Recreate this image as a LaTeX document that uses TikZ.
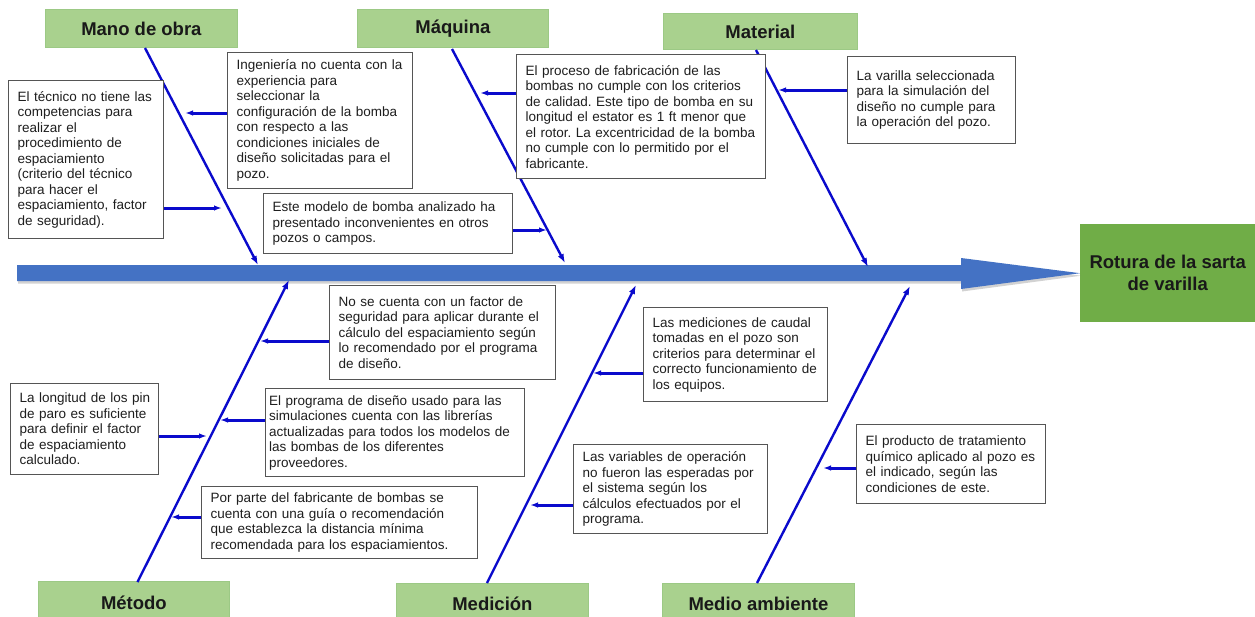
\documentclass[tikz,border=0pt]{standalone}
\usepackage{fontspec}
\setmainfont{Liberation Sans}
\usetikzlibrary{arrows.meta,shadows}
\definecolor{bone}{HTML}{0A0ACC}
\definecolor{boxline}{HTML}{555555}
\definecolor{txt}{HTML}{1E1E1E}
\definecolor{catfill}{HTML}{A9D18E}
\definecolor{catline}{HTML}{9CC985}
\definecolor{effill}{HTML}{70AD47}
\definecolor{spinefill}{HTML}{4472C4}
\frenchspacing
% one unbreakable line of a cause box
\newcommand{\txtline}[1]{\mbox{#1}}
\begin{document}
\begin{tikzpicture}[x=1pt,y=-1pt,
  cause/.style={draw=boxline, line width=1.3pt, fill=white, text=txt, align=left,
    anchor=north west, inner xsep=9pt, inner ysep=0pt,
    font=\fontsize{13.5pt}{15.5pt}\selectfont},
  category/.style={draw=catline, line width=0.8pt, fill=catfill, text=black!90,
    anchor=north west, inner sep=0pt,
    font=\fontsize{18.5pt}{22pt}\selectfont\bfseries},
  bonearrow/.style={draw=bone, line width=2.4pt, -{Latex[length=9pt,width=6.5pt]}},
  link/.style={draw=bone, line width=3pt, -{Latex[length=8pt,width=5.5pt]}},
]
\useasboundingbox (0,0) rectangle (1255,616);
\clip (0,0) rectangle (1255,616);
\fill[white] (0,0) rectangle (1255,616);

% effect
\node[fill=effill, anchor=north west, minimum width=175pt, minimum height=98pt,
  inner sep=0pt, align=center, text=black!90,
  font=\fontsize{18.5pt}{21.7pt}\selectfont\bfseries] (ef) at (1080,224)
  {Rotura de la sarta\\de varilla};

% spine
\coordinate (tail) at (17,273);
\fill[spinefill, drop shadow={shadow xshift=1pt, shadow yshift=-2.5pt, opacity=0.35}]
  (tail |- 0,265) -- (961,265) -- (961,258) -- (ef.west) -- (961,289) -- (961,281)
  -- (tail |- 0,281) -- cycle;

% categories
\node[category, minimum width=192pt, minimum height=38pt] (mano) at (45,9) {Mano de obra};
\node[category, minimum width=191pt, minimum height=38pt] (maq) at (357,9) {Máquina};
\node[category, minimum width=194pt, minimum height=36pt] (mat) at (663,13) {Material};
\node[category, minimum width=191pt, minimum height=42pt] (met) at (38,581) {Método};
\node[category, minimum width=192pt, minimum height=40pt] (medi) at (396,583) {Medición};
\node[category, minimum width=192pt, minimum height=40pt] (amb) at (662,583) {Medio ambiente};

% bones
\coordinate (b1a) at (145,48);  \coordinate (b1b) at (258,265);
\coordinate (b2a) at (452,49);  \coordinate (b2b) at (565,263);
\coordinate (b3a) at (756,50);  \coordinate (b3b) at (868,267);
\coordinate (b4a) at (137.5,582); \coordinate (b4b) at (289,280);
\coordinate (b5a) at (487,583); \coordinate (b5b) at (636,285);
\coordinate (b6a) at (757,583); \coordinate (b6b) at (910,286);
\draw[bonearrow] (b1a) -- (b1b);
\draw[bonearrow] (b2a) -- (b2b);
\draw[bonearrow] (b3a) -- (b3b);
\draw[bonearrow] (b4a) -- (b4b);
\draw[bonearrow] (b5a) -- (b5b);
\draw[bonearrow] (b6a) -- (b6b);

% causes
\node[cause, text width=137pt, minimum height=158pt] (tec) at (8,80)
  {\txtline{El técnico no tiene las}\\\txtline{competencias para}\\\txtline{realizar el}\\
   \txtline{procedimiento de}\\\txtline{espaciamiento}\\\txtline{(criterio del técnico}\\
   \txtline{para hacer el}\\\txtline{espaciamiento, factor}\\\txtline{de seguridad).}};
\node[cause, text width=167pt, minimum height=136pt] (ing) at (227,52)
  {\txtline{Ingeniería no cuenta con la}\\\txtline{experiencia para}\\\txtline{seleccionar la}\\
   \txtline{configuración de la bomba}\\\txtline{con respecto a las}\\
   \txtline{condiciones iniciales de}\\\txtline{diseño solicitadas para el}\\\txtline{pozo.}};
\node[cause, text width=231pt, minimum height=60pt] (mod) at (263,193)
  {\txtline{Este modelo de bomba analizado ha}\\\txtline{presentado inconvenientes en otros}\\
   \txtline{pozos o campos.}};
\node[cause, text width=231pt, minimum height=124pt] (proc) at (516,54)
  {\txtline{El proceso de fabricación de las}\\\txtline{bombas no cumple con los criterios}\\
   \txtline{de calidad. Este tipo de bomba en su}\\\txtline{longitud el estator es 1 ft menor que}\\
   \txtline{el rotor. La excentricidad de la bomba}\\\txtline{no cumple con lo permitido por el}\\
   \txtline{fabricante.}};
\node[cause, text width=150pt, minimum height=87pt] (vari) at (847,56)
  {\txtline{La varilla seleccionada}\\\txtline{para la simulación del}\\
   \txtline{diseño no cumple para}\\\txtline{la operación del pozo.}};
\node[cause, text width=208pt, minimum height=94pt] (fs) at (329,285)
  {\txtline{No se cuenta con un factor de}\\\txtline{seguridad para aplicar durante el}\\
   \txtline{cálculo del espaciamiento según}\\\txtline{lo recomendado por el programa}\\
   \txtline{de diseño.}};
\node[cause, text width=130pt, minimum height=91pt] (pin) at (10,383)
  {\txtline{La longitud de los pin}\\\txtline{de paro es suficiente}\\
   \txtline{para definir el factor}\\\txtline{de espaciamiento}\\\txtline{calculado.}};
\node[cause, inner xsep=3.5pt, text width=252pt, minimum height=88pt] (prog) at (265,388)
  {\txtline{El programa de diseño usado para las}\\\txtline{simulaciones cuenta con las librerías}\\
   \txtline{actualizadas para todos los modelos de}\\\txtline{las bombas de los diferentes}\\
   \txtline{proveedores.}};
\node[cause, text width=258pt, minimum height=72pt] (fab) at (201,486)
  {\txtline{Por parte del fabricante de bombas se}\\\txtline{cuenta con una guía o recomendación}\\
   \txtline{que establezca la distancia mínima}\\\txtline{recomendada para los espaciamientos.}};
\node[cause, text width=166pt, minimum height=94pt] (cau) at (643,307)
  {\txtline{Las mediciones de caudal}\\\txtline{tomadas en el pozo son}\\
   \txtline{criterios para determinar el}\\\txtline{correcto funcionamiento de}\\
   \txtline{los equipos.}};
\node[cause, text width=176pt, minimum height=89pt] (opv) at (573,444)
  {\txtline{Las variables de operación}\\\txtline{no fueron las esperadas por}\\
   \txtline{el sistema según los}\\\txtline{cálculos efectuados por el}\\\txtline{programa.}};
\node[cause, text width=171pt, minimum height=79pt] (quim) at (856,424)
  {\txtline{El producto de tratamiento}\\\txtline{químico aplicado al pozo es}\\
   \txtline{el indicado, según las}\\\txtline{condiciones de este.}};

% links from causes to their bones
\coordinate (t-tec) at (222,208);
\coordinate (t-ing) at (185,113);
\coordinate (t-mod) at (547,230);
\coordinate (t-proc) at (480,93);
\coordinate (t-vari) at (778,90);
\coordinate (t-fs) at (260,341);
\coordinate (t-pin) at (207,436);
\coordinate (t-prog) at (220,420);
\coordinate (t-fab) at (171,517);
\coordinate (t-cau) at (593,373);
\coordinate (t-opv) at (530,505);
\coordinate (t-quim) at (823,468);
\draw[link] (tec.east |- t-tec) -- (t-tec);
\draw[link] (ing.west |- t-ing) -- (t-ing);
\draw[link] (mod.east |- t-mod) -- (t-mod);
\draw[link] (proc.west |- t-proc) -- (t-proc);
\draw[link] (vari.west |- t-vari) -- (t-vari);
\draw[link] (fs.west |- t-fs) -- (t-fs);
\draw[link] (pin.east |- t-pin) -- (t-pin);
\draw[link] (prog.west |- t-prog) -- (t-prog);
\draw[link] (fab.west |- t-fab) -- (t-fab);
\draw[link] (cau.west |- t-cau) -- (t-cau);
\draw[link] (opv.west |- t-opv) -- (t-opv);
\draw[link] (quim.west |- t-quim) -- (t-quim);
\end{tikzpicture}
\end{document}
